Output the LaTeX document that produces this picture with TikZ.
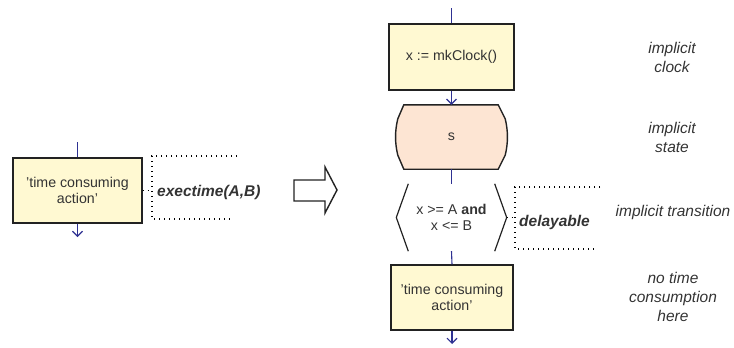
\documentclass[tikz,border=0pt]{standalone}
\usepackage{fontspec}
\setmainfont{Liberation Sans}
\usetikzlibrary{arrows.meta,calc,backgrounds}
\definecolor{boxfill}{HTML}{FFF9D2}
\definecolor{statefill}{HTML}{FDE5D3}
\definecolor{flow}{HTML}{2E3192}
\definecolor{txt}{HTML}{333333}
\definecolor{edge}{HTML}{222222}
\begin{document}
\begin{tikzpicture}[x=1pt,y=-1pt,
  actbox/.style={draw=edge, line width=1.4pt, fill=boxfill, inner sep=0pt,
    align=center, font=\fontsize{14.2}{15.5}\selectfont, text=txt},
  plain/.style={inner sep=0pt, align=center, font=\fontsize{14.2}{15.5}\selectfont, text=txt},
  outline/.style={draw=edge, line width=1.4pt},
  flowline/.style={draw=flow, line width=1.1pt},
  flowarrow/.style={flowline, -{Straight Barb[length=5pt,width=10pt]}},
  note/.style={draw=black, line width=1.5pt, dash pattern=on 1.2pt off 3.8pt},
  notelabel/.style={inner sep=0pt, anchor=west, font=\fontsize{15.5}{16}\selectfont\bfseries\itshape, text=txt},
  remark/.style={inner sep=0pt, font=\fontsize{15.5}{19}\selectfont\itshape, text=txt, align=center}]
\useasboundingbox (0,0) rectangle (734,348);

% ---------- left: the original action ----------
\node[actbox, minimum width=129pt, minimum height=65pt] (L) at (77.5,190.5)
  {'time consuming\\action'};
\coordinate (Lin) at (77.5,142);
\coordinate (Lout) at (77.5,237);
\draw[flowline] (Lin) -- (L.north);
\draw[flowarrow] (L.south) -- (Lout);

% annotation attached to the action
\coordinate (LnT) at (152,156);
\coordinate (LnB) at (152,219);
\coordinate (LnTe) at (237,156);
\coordinate (LnBe) at (232,219);
\coordinate (LnM) at (152,190.5);
\draw[note] (LnTe) -- (LnT) -- (LnB) -- (LnBe);
\draw[note] (L.east) -- (LnM);
\node[notelabel] (Llab) at (157,192) {exectime(A,B)};

% ---------- transformation arrow ----------
\draw[outline, fill=white, line join=miter]
  (294,180) -- (325,180) -- (325,167) -- (337,190) -- (325,213) -- (325,201) -- (294,201) -- cycle;

% ---------- right: the expanded form ----------
\node[actbox, minimum width=125pt, minimum height=66pt] (R1) at (451.5,57) {x := mkClock()};
\node[plain, minimum width=111pt, minimum height=64pt] (S) at (451.5,137) {s};
\node[plain, minimum width=110pt, minimum height=67pt] (T) at (451.5,217.5)
  {x >= A \textbf{and}\\x <= B};
\node[actbox, minimum width=122pt, minimum height=65pt] (R4) at (452,297.5)
  {'time consuming\\action'};

% state outline with chamfered, slightly bulging sides
\begin{scope}[on background layer]
\draw[outline, fill=statefill]
  ($(S.north west)+(8,0)$) -- ($(S.north east)+(-9,0)$)
  -- ($(S.north east)+(-2,14)$) .. controls ($(S.east)+(1,-6)$) and ($(S.east)+(1,6)$) .. ($(S.south east)+(-2,-14)$)
  -- ($(S.south east)+(-9,0)$) -- ($(S.south west)+(8,0)$)
  -- ($(S.south west)+(2,-14)$) .. controls ($(S.west)+(-1,6)$) and ($(S.west)+(-1,-6)$) .. ($(S.north west)+(2,14)$)
  -- cycle;
\end{scope}

% transition guard brackets
\draw[outline, line width=1.2pt] ($(T.north west)+(12,0)$) -- (T.west) -- ($(T.south west)+(12,0)$);
\draw[outline, line width=1.2pt] ($(T.north east)+(-12,0)$) -- (T.east) -- ($(T.south east)+(-12,0)$);

\coordinate (Rin) at (451.5,8);
\coordinate (Rout) at (452,344);
\draw[flowline] (Rin) -- (R1.north);
\draw[flowarrow] (R1.south) -- (S.north);
\draw[flowline] (S.south) -- (T.north);
\draw[flowline] (T.south) -- (R4.north);
\draw[flowarrow] (R4.south) -- (Rout);

% annotation attached to the transition
\coordinate (TnT) at (515,187);
\coordinate (TnB) at (515,249);
\coordinate (TnTe) at (600,187);
\coordinate (TnBe) at (597,249);
\coordinate (TnM) at (515,217.5);
\draw[note] (TnTe) -- (TnT) -- (TnB) -- (TnBe);
\draw[note] (T.east) -- (TnM);
\node[notelabel] (Tlab) at (519,222) {delayable};

% explanatory remarks
\node[remark] (c1) at (672,57) {implicit\\clock};
\node[remark] (c2) at (672,137) {implicit\\state};
\node[remark] (c3) at (673,212) {implicit transition};
\node[remark] (c4) at (673,297) {no time\\consumption\\here};
\end{tikzpicture}
\end{document}
